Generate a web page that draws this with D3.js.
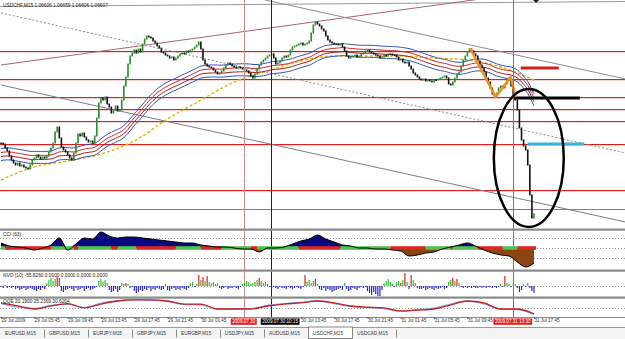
<!DOCTYPE html>
<html>
<head>
<meta charset="utf-8">
<script src="https://cdn.jsdelivr.net/npm/d3@7"></script>
<style>
  body { margin: 0; background: #fff; }
  svg text { font-family: "Liberation Sans", Arial, sans-serif; }
</style>
</head>
<body>
<div id="chart"></div>
<script>
// ---- data ----
// M15 closes, bar 0 = 29 Jul 01:45
const closes = [
1.0736,1.0735,1.0731,1.0728,1.0723,1.0719,1.0716,1.0714,1.0716,1.0713,
1.0714,1.0712,1.0711,1.0710,1.0714,1.0719,1.0721,1.0724,1.0722,1.0720,
1.0722,1.0721,1.0723,1.0727,1.0731,1.0736,1.0747,1.0752,1.0741,1.0732,
1.0729,1.0727,1.0724,1.0721,1.0719,1.0726,1.0736,1.0745,1.0743,1.0746,
1.0742,1.0739,1.0737,1.0738,1.0736,1.0743,1.0761,1.0776,1.0781,1.0779,
1.0782,1.0775,1.0772,1.0766,1.0769,1.0773,1.0768,1.0769,1.0779,1.0793,
1.0802,1.0815,1.0823,1.0826,1.0829,1.0826,1.0830,1.0827,1.0835,1.0840,
1.0843,1.0842,1.0841,1.0838,1.0836,1.0833,1.0831,1.0827,1.0826,1.0824,
1.0823,1.0821,1.0822,1.0819,1.0821,1.0823,1.0825,1.0826,1.0825,1.0828,
1.0827,1.0829,1.0830,1.0832,1.0834,1.0837,1.0830,1.0819,1.0815,1.0813,
1.0812,1.0811,1.0809,1.0807,1.0805,1.0806,1.0808,1.0811,1.0814,1.0816,
1.0815,1.0813,1.0812,1.0811,1.0812,1.0811,1.0810,1.0809,1.0808,1.0806,
1.0803,1.0801,1.0805,1.0810,1.0814,1.0817,1.0819,1.0821,1.0823,1.0824,
1.0825,1.0821,1.0815,1.0816,1.0818,1.0821,1.0823,1.0822,1.0824,1.0829,
1.0832,1.0833,1.0834,1.0835,1.0836,1.0834,1.0835,1.0836,1.0838,1.0846,
1.0854,1.0857,1.0855,1.0853,1.0850,1.0848,1.0843,1.0839,1.0837,1.0836,
1.0835,1.0835,1.0834,1.0835,1.0832,1.0828,1.0823,1.0821,1.0822,1.0823,
1.0824,1.0822,1.0823,1.0825,1.0826,1.0828,1.0829,1.0827,1.0826,1.0825,
1.0824,1.0823,1.0821,1.0822,1.0824,1.0823,1.0825,1.0825,1.0824,1.0824,
1.0822,1.0819,1.0820,1.0817,1.0816,1.0817,1.0813,1.0810,1.0806,1.0804,
1.0802,1.0800,1.0799,1.0800,1.0798,1.0799,1.0798,1.0797,1.0799,1.0799,
1.0800,1.0801,1.0802,1.0803,1.0801,1.0795,1.0794,1.0797,1.0801,1.0805,
1.0807,1.0813,1.0819,1.0823,1.0827,1.0830,1.0828,1.0825,1.0823,1.0818,
1.0814,1.0811,1.0807,1.0801,1.0797,1.0791,1.0785,1.0783,1.0786,1.0791,
1.0793,1.0791,1.0795,1.0799,1.0801,1.0793,1.0785,1.0779,1.0769,1.0751,
1.0739,1.0733,1.0729,1.0714,1.0684,1.0661,1.0665
];

// envelope moving average (EMA of closes) settings
const emaPeriod = 56, emaSeed = 1.0724;
const bandOuter = 0.0006, bandInner = 0.0002;

// slow yellow MA, sampled every 16 bars
const slowMaBars = [0,16,32,48,64,80,96,112,128,144,160,176,192,208,224,240,256];
const slowMaVals = [1.0699,1.0712,1.0718,1.0725,1.0738,1.0760,1.0779,1.0797,1.0808,
                    1.0818,1.0823,1.0823,1.0823,1.0821,1.0819,1.0812,1.0799];

// horizontal levels
const redLevels = [1.0828, 1.0800, 1.0782, 1.0770, 1.0758, 1.0735, 1.0689];
const grayLevels = [1.0670];

// trend lines: [bar1, price1, bar2, price2]
const trendLines = [
  [0, 1.0814, 300, 1.0900],
  [0, 1.0866, 300, 1.0726],
  [120, 1.08822, 300, 1.0800],
  [0, 1.0794, 300, 1.0657]
];

// vertical lines (bar position) and their axis labels
const vLineBars = [116.6, 129.6, 245.8];
const vLineLabels = ["2009.07.30", "2009.07.30 10:15", "2009.07.31 13:30"];

// short thick marker segments: [fromBar, toBar, price]
const markRed = [249.6, 267.9, 1.0811];
const markBlack = [246, 278, 1.0781];
const markCyan = [253, 280, 1.0735];

// orange zigzag [bar, price]
const zigzag = [[225.2, 1.0831], [237.6, 1.0782], [244.8, 1.0802], [247.2, 1.0782]];

// ellipse: centre bar, centre price, half width in bars, half height in price
const ellipse = [253.5, 1.0721, 16.8, 0.0069];

// CCI(63), sampled every 4 bars
const cciVals = [50,20,10,0,-20,0,30,100,-20,40,100,90,160,120,100,110,110,100,90,80,
  70,60,50,50,30,20,10,10,0,-10,-10,-40,0,0,10,40,70,90,130,90,
  60,30,20,0,0,-10,-10,-20,-30,-80,-70,-50,-40,-10,10,30,50,20,-20,-50,
  -70,-80,-140,-190,-150];
// CCI trend strip: [fromBar, toBar, state]
const cciTrend = [[0,2,1],[2,24,-1],[24,35,1],[35,37,-1],[37,53,1],[53,56,-1],[56,65,1],
  [65,84,-1],[84,96,1],[96,106,-1],[106,120,1],[120,123,-1],[123,143,1],[143,163,-1],
  [163,187,1],[187,204,-1],[204,216,1],[216,217,-1],[217,229,1],[229,241,-1],[241,248,1],[248,257,-1]];
const cciLevels = [100, 0, -100];

// NVO(10) histogram, one value per bar
const nvoVals = [
  -1,-2,1,-2,-1,-2,-1, -3,-2,-4,-3,-2,-4,-3,-2,-3, -4,-5,-3,-4,-2,-3, 3,6,8,5,7, 9,8,
  -5,-6,-4,-3, -2,-3,-5,-2,-4,-3,-2,-5,-3,-2,-4,-3,-2,-1, 5,7,4,6,3, -4,-6,-5,-3,-6,-4,
  3,2,3,2, -2,-1, -5,-7,-6,-4,-5, -3,-4,-2,-5,-3,-4,-2,-3, -4,-3,2,-4,-5,-3,-2,-4,
  -3,-4,-2,-3,-4,-2, 3,4,-1, 2,11,6,9,5,10, 4,3,4,2,3, -2,-3,-2,-1,-3,-2,-2,-1,-2,-3,-1,
  2,3,5,4,2,3,4,6,8,5,3,4,2, -1,-2,-1,-2,-3,-1,-2,-2,-3,-1,-2,-3,-2,-1,-2,-3,-1,
  11,4,6,3,5,7,2, -3,-4,-2,-5,-3,-4,-6,-5,-4,-3,-2,-4,3,-3,-5,-4,-2,-3,-4,-2, -1,-2,-1,
  -5,-7,-9,-6,-8,-10,-11,-4, 3,5,7,4,2,-1, 4,5,3,6,13,4,-3, 11,6,3,-2,-3,
  -3,-2,-4,-3,-2,-3,-4,-2,-3,-2,-1,-3,-2, 4,6,8,5,7,3,-1,-2,
  -1,-2,-1,-2,-1,-2,-2,-1,-2,-1,-2,-1,-1,-2,-1,-2,-1,2,-1, 10,3, 2,-1,3,2,-2, -6,-4, 2,-1,3,-2, -5,-7
];
const nvoRedBars = [27,28,60,95,97,99,124,146,151,192,194,197,217,219,242];

// QQE, sampled every 8 bars
const qqeSlow = [71,57,43,57,68,48,66,80,85,85,80,66,66,43,43,43,57,66,71,80,71,57,52,48,34,38,43,62,80,71,43,43,20];
const qqeFast = [68,52,46,60,64,50,70,82,86,84,78,64,62,42,44,45,60,68,74,81,68,55,50,45,33,40,47,66,79,67,42,40,18];
const qqeLevels = [50];

// time axis labels, every 16 bars
const tickLabels = ["29 Jul 2009","29 Jul 05:45","29 Jul 09:45","29 Jul 13:45","29 Jul 17:45",
  "29 Jul 21:45","30 Jul 01:45","30 Jul 05:45","30 Jul 09:45","30 Jul 13:45","30 Jul 17:45",
  "30 Jul 21:45","31 Jul 01:45","31 Jul 05:45","31 Jul 09:45","31 Jul 13:45","31 Jul 17:45"];

const tabNames = ["EURUSD,M15","GBPUSD,M15","EURJPY,M15","GBPJPY,M15","EURGBP,M15",
  "USDJPY,M15","AUDUSD,M15","USDCHF,M15","USDCAD,M15"];
const activeTab = 7;

// ---- layout ----
const W = 625, H = 339;
const svg = d3.select("#chart").append("svg")
    .attr("width", W).attr("height", H);

const x = d3.scaleLinear().domain([0, 256]).range([1, 534]);
const yMain = d3.scaleLinear().domain([1.0651, 1.0879]).range([228, 0]);
const yCci = d3.scaleLinear().domain([-200, 200]).range([268, 228]);
const yNvo = d3.scaleLinear().domain([-12, 14]).range([298, 272]);
const yQqe = d3.scaleLinear().domain([20, 80]).range([314, 301]);
const crisp = v => Math.round(v) + 0.5;

const defs = svg.append("defs");
function clip(id, y0, y1) {
  defs.append("clipPath").attr("id", id)
    .append("rect").attr("x", 0).attr("y", y0).attr("width", W).attr("height", y1 - y0);
}
clip("cMain", 0, 228);
clip("cCci", 231, 269);
clip("cNvo", 271.5, 296);
clip("cQqe", 298.5, 317);

svg.append("rect").attr("width", W).attr("height", H).attr("fill", "#fff");

// ---- main price panel ----
const main = svg.append("g").attr("clip-path", "url(#cMain)");

main.append("line").attr("x1", 0).attr("x2", W).attr("y1", 6.5).attr("y2", 1.5)
    .attr("stroke", "#999").attr("stroke-width", 1);

// horizontal price levels, drawn as 1px bands
main.selectAll("rect.hred").data(redLevels).join("rect").attr("class", "hred")
    .attr("x", 0).attr("width", W)
    .attr("y", d => Math.round(yMain(d))).attr("height", 1.2)
    .attr("fill", "#e01e1e");

main.selectAll("rect.hgray").data(grayLevels).join("rect").attr("class", "hgray")
    .attr("x", 0).attr("width", W)
    .attr("y", d => Math.round(yMain(d))).attr("height", 1)
    .attr("fill", "#808080");

const tlColor = ["#a86470", "#8a8a8a", "#8c8c9c", "#7c7c90"];
main.selectAll("line.tl").data(trendLines).join("line").attr("class", "tl")
    .attr("x1", d => x(d[0])).attr("y1", d => yMain(d[1]))
    .attr("x2", d => x(d[2])).attr("y2", d => yMain(d[3]))
    .attr("stroke", (d, i) => tlColor[i]).attr("stroke-width", 1)
    .attr("stroke-dasharray", (d, i) => i === 1 ? "2,2" : null);

// vertical lines through all panels
const vColor = ["#d08a8a", "#222", "#b55a5a"];
svg.selectAll("line.vl").data(vLineBars).join("line").attr("class", "vl")
    .attr("x1", d => crisp(x(d))).attr("x2", d => crisp(x(d)))
    .attr("y1", 0).attr("y2", 318)
    .attr("stroke", (d, i) => vColor[i]).attr("stroke-width", 1);

// slow MA
main.append("path")
    .datum(slowMaBars.map((b, i) => [b, slowMaVals[i]]))
    .attr("fill", "none").attr("stroke", "#e3b400").attr("stroke-width", 1.4)
    .attr("stroke-dasharray", "3,2")
    .attr("d", d3.line().x(d => x(d[0])).y(d => yMain(d[1])).curve(d3.curveMonotoneX));

// envelope around EMA of closes
let e = emaSeed;
const mid = closes.map(c => (e = e + (c - e) * 2 / (emaPeriod + 1)));
const bands = [
  {off: bandOuter, color: "#2f4fbf"},
  {off: bandInner, color: "#d42222"},
  {off: -bandInner, color: "#a81818"},
  {off: -bandOuter, color: "#2f4fbf"}
];
main.selectAll("path.band").data(bands).join("path").attr("class", "band")
    .attr("fill", "none").attr("stroke", d => d.color).attr("stroke-width", 1)
    .attr("d", b => d3.line().x((v, i) => x(i)).y(v => yMain(v + b.off))(mid));

// candles (open = previous close)
const openOf = i => closes[Math.max(i - 1, 0)];
main.selectAll("rect.bar").data(closes).join("rect").attr("class", "bar")
    .attr("x", (d, i) => x(i) - 0.8)
    .attr("width", 1.6)
    .attr("y", (d, i) => yMain(Math.max(d, openOf(i))) - 0.5)
    .attr("height", (d, i) => Math.max(1.5, Math.abs(yMain(d) - yMain(openOf(i))) + 1))
    .attr("fill", (d, i) => d > openOf(i) ? "#2a8c2a" : "#111");

// marker segments
[[markRed, "#d01e1e"], [markBlack, "#000"], [markCyan, "#33b4e0"]].forEach(([m, c]) => {
  main.append("line")
      .attr("x1", x(m[0])).attr("x2", x(m[1]))
      .attr("y1", yMain(m[2])).attr("y2", yMain(m[2]))
      .attr("stroke", c).attr("stroke-width", 3);
});

main.append("path").datum(zigzag)
    .attr("fill", "none").attr("stroke", "#f0901c").attr("stroke-width", 2.5)
    .attr("stroke-linejoin", "round")
    .attr("d", d3.line().x(d => x(d[0])).y(d => yMain(d[1])));

svg.append("ellipse")
    .attr("cx", x(ellipse[0])).attr("cy", yMain(ellipse[1]))
    .attr("rx", x(ellipse[0] + ellipse[2]) - x(ellipse[0]))
    .attr("ry", yMain(ellipse[1] - ellipse[3]) - yMain(ellipse[1]))
    .attr("fill", "none").attr("stroke", "#000").attr("stroke-width", 2.5);

// shift marker at the top
svg.append("path")
    .attr("d", `M${x(257) - 3},0 L${x(257) + 3},0 L${x(257)},3 Z`).attr("fill", "#222");

svg.append("text").attr("x", 3).attr("y", 6.5)
    .attr("font-size", 4.8).attr("fill", "#222")
    .text("USDCHF,M15  1.06606 1.06659 1.06606 1.06607");

// ---- panel separators ----
[228.5, 269.5, 296.5].forEach(yy => {
  svg.append("rect").attr("x", 0).attr("y", yy).attr("width", W).attr("height", 2.2)
      .attr("fill", "#8a8a8a");
});

// ---- CCI ----
const cci = svg.append("g").attr("clip-path", "url(#cCci)");
cci.selectAll("line.lv").data(cciLevels).join("line").attr("class", "lv")
    .attr("x1", 0).attr("x2", W)
    .attr("y1", d => crisp(yCci(d))).attr("y2", d => crisp(yCci(d)))
    .attr("stroke", "#999").attr("stroke-dasharray", "1,2");

const cciPts = cciVals.map((v, i) => [i * 4, v]);
cci.append("path").datum(cciPts).attr("fill", "#0a0a80")
    .attr("d", d3.area().x(d => x(d[0])).y0(yCci(0)).y1(d => yCci(Math.max(d[1], 0))).curve(d3.curveMonotoneX));
cci.append("path").datum(cciPts).attr("fill", "#8b4513")
    .attr("d", d3.area().x(d => x(d[0])).y0(yCci(0)).y1(d => yCci(Math.min(d[1], 0))).curve(d3.curveMonotoneX));
cci.selectAll("rect.st").data(cciTrend).join("rect").attr("class", "st")
    .attr("x", d => x(d[0])).attr("width", d => x(d[1]) - x(d[0]))
    .attr("y", yCci(0) - 1.8).attr("height", 3.6)
    .attr("fill", d => d[2] > 0 ? "#4ec44e" : "#dc2626");
cci.append("path").datum(cciPts).attr("fill", "none").attr("stroke", "#000").attr("stroke-width", 1)
    .attr("d", d3.line().x(d => x(d[0])).y(d => yCci(d[1])).curve(d3.curveMonotoneX));
svg.append("text").attr("x", 3).attr("y", 236).attr("font-size", 4.8).attr("fill", "#222").text("CCI (63)");

// ---- NVO ----
const nvo = svg.append("g").attr("clip-path", "url(#cNvo)");
nvo.append("line").attr("x1", 0).attr("x2", W)
    .attr("y1", crisp(yNvo(0))).attr("y2", crisp(yNvo(0)))
    .attr("stroke", "#999").attr("stroke-dasharray", "1,2");
nvo.selectAll("rect.nb").data(nvoVals).join("rect").attr("class", "nb")
    .attr("x", (d, i) => x(i) - 0.6).attr("width", 1.2)
    .attr("y", d => yNvo(Math.max(d, 0)))
    .attr("height", d => Math.abs(yNvo(d) - yNvo(0)))
    .attr("fill", (d, i) => d < 0 ? "#2a2ad0" : (nvoRedBars.includes(i) ? "#e02020" : "#2ec42e"));
svg.append("text").attr("x", 3).attr("y", 277).attr("font-size", 4.8).attr("fill", "#222")
    .text("NVO (10) -55.8260 0.0000 0.0000 0.0000 0.0000");

// ---- QQE ----
const qqe = svg.append("g").attr("clip-path", "url(#cQqe)");
qqe.selectAll("line.ql").data(qqeLevels).join("line").attr("class", "ql")
    .attr("x1", 0).attr("x2", W)
    .attr("y1", d => crisp(yQqe(d))).attr("y2", d => crisp(yQqe(d)))
    .attr("stroke", "#999").attr("stroke-dasharray", "1,2");
const qLine = d3.line().x((v, i) => x(i * 8)).y(v => yQqe(v)).curve(d3.curveMonotoneX);
qqe.append("path").datum(qqeFast).attr("fill", "none").attr("stroke", "#7aa6ff").attr("stroke-width", 1.2).attr("d", qLine);
qqe.append("path").datum(qqeSlow).attr("fill", "none").attr("stroke", "#c81e1e").attr("stroke-width", 1.3).attr("d", qLine);
svg.append("text").attr("x", 3).attr("y", 303).attr("font-size", 4.8).attr("fill", "#222")
    .text("QQE 20.1900 25.2369 30.6264");

// ---- time axis ----
const axis = svg.append("g").attr("transform", "translate(0,317)")
    .call(d3.axisBottom(x).tickValues(d3.range(0, 257, 16))
      .tickFormat((d, i) => tickLabels[i]).tickSize(2).tickPadding(0));
axis.select(".domain").attr("stroke", "#888").attr("d", `M0,0.5H${W}`);
axis.selectAll(".tick line").attr("stroke", "#666");
axis.selectAll(".tick text").attr("text-anchor", "start").attr("font-size", 4.6)
    .attr("fill", "#333").attr("font-family", "Liberation Sans, Arial, sans-serif");

// tick label extents in page x
const ticks = [];
axis.selectAll(".tick").each(function (d) {
  const t = d3.select(this).select("text");
  const x0 = x(d) + 0.5;
  ticks.push({t, x0, x1: x0 + t.node().getComputedTextLength()});
});

// labels of the vertical lines, laid out left to right without overlap
const boxFill = ["#e0201c", "#000", "#e0201c"];
const boxes = [];
let prevRight = -Infinity;
vLineBars.forEach((b, i) => {
  const g = svg.append("g");
  const t = g.append("text").attr("font-size", 4.6).attr("fill", "#fff")
      .attr("text-anchor", "middle").attr("y", 323.2).text(vLineLabels[i]);
  const w = t.node().getComputedTextLength() + 3;
  let left = x(b) - w / 2;
  ticks.forEach(k => { if (k.x0 < left && k.x1 > left) left = k.x1 + 1; });
  left = Math.max(left, prevRight);
  prevRight = left + w;
  boxes.push([left, left + w]);
  t.attr("x", left + w / 2);
  g.insert("rect", "text").attr("x", left).attr("y", 318.5).attr("width", w).attr("height", 6.3)
      .attr("fill", boxFill[i]);
});

// tick labels that fall under a box are pushed past it or hidden (as MT4 does)
ticks.forEach(k => {
  boxes.forEach(([l, r]) => {
    if (k.x0 >= l && k.x0 < r) {
      if (k.x1 > r + 10) {
        k.t.attr("x", r + 1 - k.x0);
        k.x0 = r + 1;
      } else {
        k.t.remove();
      }
    }
  });
});

// ---- symbol tabs ----
const tabs = svg.append("g").attr("transform", "translate(0,327)");
tabs.append("rect").attr("x", 0).attr("y", 0).attr("width", W).attr("height", 12).attr("fill", "#f4f4f4");
tabs.append("line").attr("x1", 0).attr("x2", W).attr("y1", 0.5).attr("y2", 0.5).attr("stroke", "#9a9a9a");
const tabW = 44;
const tab = tabs.selectAll("g.tab").data(tabNames).join("g").attr("class", "tab")
    .attr("transform", (d, i) => `translate(${1 + i * tabW},0)`);
tab.filter((d, i) => i === activeTab).append("rect")
    .attr("x", -0.5).attr("y", 0).attr("width", tabW).attr("height", 11.5)
    .attr("fill", "#fff").attr("stroke", "#666").attr("stroke-width", 0.8);
tab.filter((d, i) => i !== activeTab && i !== activeTab - 1).append("line")
    .attr("x1", tabW - 0.5).attr("x2", tabW - 0.5).attr("y1", 2.5).attr("y2", 10.5)
    .attr("stroke", "#888");
tab.append("text").attr("x", 4).attr("y", 7.6).attr("font-size", 4.8).attr("fill", "#333").text(d => d);
</script>
</body>
</html>
